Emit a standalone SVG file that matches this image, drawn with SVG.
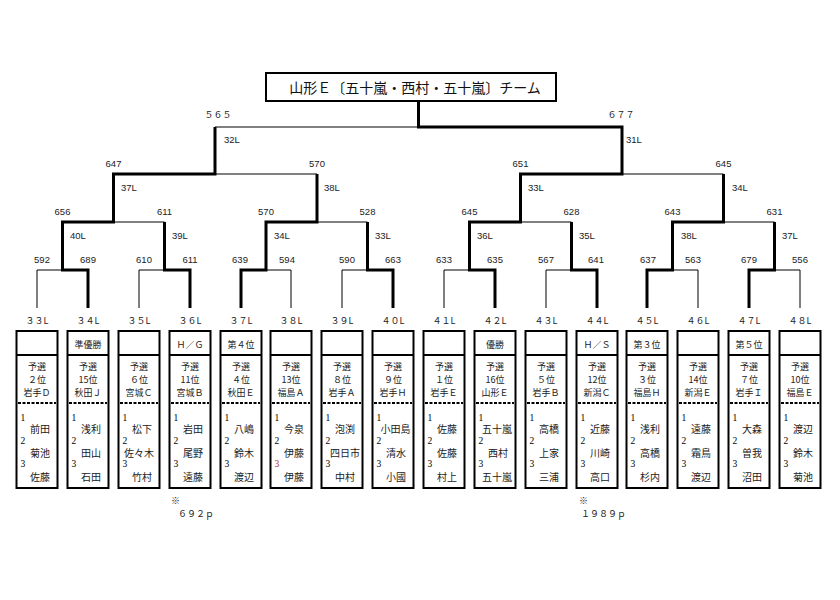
<svg xmlns="http://www.w3.org/2000/svg" width="840" height="600" viewBox="0 0 840 600">
<style>
.bg{fill:#ffffff}
.thin{fill:none;stroke:#000;stroke-width:1}
.thick{fill:none;stroke:#000;stroke-width:3;stroke-linejoin:miter}
.sc{font-family:"Liberation Sans","Noto Sans CJK JP",sans-serif;font-size:9.5px;fill:#222;text-anchor:middle}
.ll{font-family:"Liberation Sans","Noto Sans CJK JP",sans-serif;font-size:9.5px;fill:#222}
.fw{font-family:"Noto Sans CJK JP",sans-serif;font-size:9px;fill:#222;text-anchor:middle}
.cell{fill:#fff;stroke:#000;stroke-width:2}
.hdr{stroke:#000;stroke-width:2}
.dash{stroke:#000;stroke-width:2;stroke-dasharray:3 1.5}
.c{font-family:"Noto Sans CJK JP",sans-serif;font-size:9px;fill:#222;text-anchor:middle}
.m{font-family:"Noto Sans CJK JP",sans-serif;font-size:10px;fill:#222;text-anchor:middle}
.n{font-family:"Liberation Serif",serif;font-size:9.5px;fill:#000}
.t{font-family:"Noto Sans CJK JP",sans-serif;font-size:14px;fill:#111;text-anchor:middle}
.note{font-family:"Noto Sans CJK JP",sans-serif;font-size:9px;fill:#222}
</style>
<rect class="bg" x="0" y="0" width="840" height="600"/>

<g id="title">
<rect x="266" y="73" width="290" height="28" fill="#fff" stroke="#000" stroke-width="2"/>
<text class="t" x="415" y="92.5">山形Ｅ〔五十嵐・西村・五十嵐〕チーム</text>
</g>

<g id="connectors">
<path class="thin" d="M37,308 V270 H62.5"/>
<path class="thin" d="M139,308 V270 H164.5"/>
<path class="thin" d="M291,308 V270 H266"/>
<path class="thin" d="M342,308 V270 H367.5"/>
<path class="thin" d="M444,308 V270 H469.5"/>
<path class="thin" d="M546,308 V270 H571.5"/>
<path class="thin" d="M698,308 V270 H672.5"/>
<path class="thin" d="M800,308 V270 H774.5"/>
<path class="thin" d="M164.5,222 H113.5"/>
<path class="thin" d="M367.5,222 H317"/>
<path class="thin" d="M571.5,222 H520.5"/>
<path class="thin" d="M774.5,222 H723.5"/>
<path class="thin" d="M317,174 H215"/>
<path class="thin" d="M723.5,174 H622"/>
<path class="thin" d="M215,127 H418.5"/>
<path class="thick" d="M88,308 V270 H62.5 V222 H113.5 V174 H215 V127"/>
<path class="thick" d="M190,308 V270 H164.5 V222"/>
<path class="thick" d="M241,308 V270 H266 V222 H317 V174"/>
<path class="thick" d="M393,308 V270 H367.5 V222"/>
<path class="thick" d="M495,308 V270 H469.5 V222 H520.5 V174 H622 V127 H418.5 V101"/>
<path class="thick" d="M597,308 V270 H571.5 V222"/>
<path class="thick" d="M647,308 V270 H672.5 V222 H723.5 V174"/>
<path class="thick" d="M749,308 V270 H774.5 V222"/>
</g>

<g id="scores">
<text class="fw" x="218" y="118">５６５</text>
<text class="fw" x="621" y="118">６７７</text>
<text class="ll" x="224" y="143">32L</text>
<text class="ll" x="626" y="143">31L</text>
<text class="sc" x="113.5" y="167">647</text>
<text class="sc" x="317" y="167">570</text>
<text class="sc" x="520.5" y="167">651</text>
<text class="sc" x="723.5" y="167">645</text>
<text class="ll" x="121" y="191">37L</text>
<text class="ll" x="324" y="191">38L</text>
<text class="ll" x="528" y="191">33L</text>
<text class="ll" x="732" y="191">34L</text>
<text class="sc" x="62.5" y="215">656</text>
<text class="sc" x="164.5" y="215">611</text>
<text class="sc" x="266" y="215">570</text>
<text class="sc" x="367.5" y="215">528</text>
<text class="sc" x="469.5" y="215">645</text>
<text class="sc" x="571.5" y="215">628</text>
<text class="sc" x="672.5" y="215">643</text>
<text class="sc" x="774.5" y="215">631</text>
<text class="ll" x="70" y="239">40L</text>
<text class="ll" x="172" y="239">39L</text>
<text class="ll" x="274" y="239">34L</text>
<text class="ll" x="375" y="239">33L</text>
<text class="ll" x="477" y="239">36L</text>
<text class="ll" x="579" y="239">35L</text>
<text class="ll" x="681" y="239">38L</text>
<text class="ll" x="782" y="239">37L</text>
<text class="sc" x="42" y="263">592</text>
<text class="sc" x="88" y="263">689</text>
<text class="sc" x="144" y="263">610</text>
<text class="sc" x="190" y="263">611</text>
<text class="sc" x="240" y="263">639</text>
<text class="sc" x="287" y="263">594</text>
<text class="sc" x="347" y="263">590</text>
<text class="sc" x="393" y="263">663</text>
<text class="sc" x="444" y="263">633</text>
<text class="sc" x="495" y="263">635</text>
<text class="sc" x="546" y="263">567</text>
<text class="sc" x="596" y="263">641</text>
<text class="sc" x="648" y="263">637</text>
<text class="sc" x="693" y="263">563</text>
<text class="sc" x="749" y="263">679</text>
<text class="sc" x="800" y="263">556</text>
</g>

<g id="n33L" transform="translate(37,0)">
<text class="fw" x="0" y="324">３３L</text>
<rect class="cell" x="-20.5" y="331" width="41" height="157"/>
<line class="hdr" x1="-20.5" y1="355" x2="20.5" y2="355"/>
<text class="c" x="0" y="370">予選</text><text class="c" x="0" y="383">２位</text><text class="c" x="0" y="396">岩手Ｄ</text>
<line class="dash" x1="-19" y1="403" x2="19" y2="403"/>
<text class="n" x="-16.5" y="421">1</text><text class="m" x="3" y="433">前田</text>
<text class="n" x="-16.5" y="444">2</text><text class="m" x="3" y="457">菊池</text>
<text class="n" x="-16.5" y="467">3</text><text class="m" x="3" y="481">佐藤</text>
</g>
<g id="n34L" transform="translate(88,0)">
<text class="fw" x="0" y="324">３４L</text>
<rect class="cell" x="-20.5" y="331" width="41" height="157"/>
<line class="hdr" x1="-20.5" y1="355" x2="20.5" y2="355"/>
<text class="c" x="0" y="348">準優勝</text>
<text class="c" x="0" y="370">予選</text><text class="c" x="0" y="383">15位</text><text class="c" x="0" y="396">秋田Ｊ</text>
<line class="dash" x1="-19" y1="403" x2="19" y2="403"/>
<text class="n" x="-16.5" y="421">1</text><text class="m" x="3" y="433">浅利</text>
<text class="n" x="-16.5" y="444">2</text><text class="m" x="3" y="457">田山</text>
<text class="n" x="-16.5" y="467">3</text><text class="m" x="3" y="481">石田</text>
</g>
<g id="n35L" transform="translate(139,0)">
<text class="fw" x="0" y="324">３５L</text>
<rect class="cell" x="-20.5" y="331" width="41" height="157"/>
<line class="hdr" x1="-20.5" y1="355" x2="20.5" y2="355"/>
<text class="c" x="0" y="370">予選</text><text class="c" x="0" y="383">６位</text><text class="c" x="0" y="396">宮城Ｃ</text>
<line class="dash" x1="-19" y1="403" x2="19" y2="403"/>
<text class="n" x="-16.5" y="421">1</text><text class="m" x="3" y="433">松下</text>
<text class="n" x="-16.5" y="444">2</text><text class="m" x="0" y="457">佐々木</text>
<text class="n" x="-16.5" y="467">3</text><text class="m" x="3" y="481">竹村</text>
</g>
<g id="n36L" transform="translate(190,0)">
<text class="fw" x="0" y="324">３６L</text>
<rect class="cell" x="-20.5" y="331" width="41" height="157"/>
<line class="hdr" x1="-20.5" y1="355" x2="20.5" y2="355"/>
<text class="c" x="0" y="348">Ｈ／Ｇ</text>
<text class="c" x="0" y="370">予選</text><text class="c" x="0" y="383">11位</text><text class="c" x="0" y="396">宮城Ｂ</text>
<line class="dash" x1="-19" y1="403" x2="19" y2="403"/>
<text class="n" x="-16.5" y="421">1</text><text class="m" x="3" y="433">岩田</text>
<text class="n" x="-16.5" y="444">2</text><text class="m" x="3" y="457">尾野</text>
<text class="n" x="-16.5" y="467">3</text><text class="m" x="3" y="481">遠藤</text>
</g>
<g id="n37L" transform="translate(241,0)">
<text class="fw" x="0" y="324">３７L</text>
<rect class="cell" x="-20.5" y="331" width="41" height="157"/>
<line class="hdr" x1="-20.5" y1="355" x2="20.5" y2="355"/>
<text class="c" x="0" y="348">第４位</text>
<text class="c" x="0" y="370">予選</text><text class="c" x="0" y="383">４位</text><text class="c" x="0" y="396">秋田Ｅ</text>
<line class="dash" x1="-19" y1="403" x2="19" y2="403"/>
<text class="n" x="-16.5" y="421">1</text><text class="m" x="3" y="433">八嶋</text>
<text class="n" x="-16.5" y="444">2</text><text class="m" x="3" y="457">鈴木</text>
<text class="n" x="-16.5" y="467">3</text><text class="m" x="3" y="481">渡辺</text>
</g>
<g id="n38L" transform="translate(291,0)">
<text class="fw" x="0" y="324">３８L</text>
<rect class="cell" x="-20.5" y="331" width="41" height="157"/>
<line class="hdr" x1="-20.5" y1="355" x2="20.5" y2="355"/>
<text class="c" x="0" y="370">予選</text><text class="c" x="0" y="383">13位</text><text class="c" x="0" y="396">福島Ａ</text>
<line class="dash" x1="-19" y1="403" x2="19" y2="403"/>
<text class="n" x="-16.5" y="421">1</text><text class="m" x="3" y="433">今泉</text>
<text class="n" x="-16.5" y="444">2</text><text class="m" x="3" y="457">伊藤</text>
<text class="n" x="-16.5" y="467" style="fill:#b03030">3</text><text class="m" x="3" y="481">伊藤</text>
</g>
<g id="n39L" transform="translate(342,0)">
<text class="fw" x="0" y="324">３９L</text>
<rect class="cell" x="-20.5" y="331" width="41" height="157"/>
<line class="hdr" x1="-20.5" y1="355" x2="20.5" y2="355"/>
<text class="c" x="0" y="370">予選</text><text class="c" x="0" y="383">８位</text><text class="c" x="0" y="396">岩手Ａ</text>
<line class="dash" x1="-19" y1="403" x2="19" y2="403"/>
<text class="n" x="-16.5" y="421">1</text><text class="m" x="3" y="433">泡渕</text>
<text class="n" x="-16.5" y="444">2</text><text class="m" x="3" y="457">四日市</text>
<text class="n" x="-16.5" y="467">3</text><text class="m" x="3" y="481">中村</text>
</g>
<g id="n40L" transform="translate(393,0)">
<text class="fw" x="0" y="324">４０L</text>
<rect class="cell" x="-20.5" y="331" width="41" height="157"/>
<line class="hdr" x1="-20.5" y1="355" x2="20.5" y2="355"/>
<text class="c" x="0" y="370">予選</text><text class="c" x="0" y="383">９位</text><text class="c" x="0" y="396">岩手Ｈ</text>
<line class="dash" x1="-19" y1="403" x2="19" y2="403"/>
<text class="n" x="-16.5" y="421">1</text><text class="m" x="2.5" y="433">小田島</text>
<text class="n" x="-16.5" y="444">2</text><text class="m" x="3" y="457">清水</text>
<text class="n" x="-16.5" y="467">3</text><text class="m" x="3" y="481">小國</text>
</g>
<g id="n41L" transform="translate(444,0)">
<text class="fw" x="0" y="324">４１L</text>
<rect class="cell" x="-20.5" y="331" width="41" height="157"/>
<line class="hdr" x1="-20.5" y1="355" x2="20.5" y2="355"/>
<text class="c" x="0" y="370">予選</text><text class="c" x="0" y="383">１位</text><text class="c" x="0" y="396">岩手Ｅ</text>
<line class="dash" x1="-19" y1="403" x2="19" y2="403"/>
<text class="n" x="-16.5" y="421">1</text><text class="m" x="3" y="433">佐藤</text>
<text class="n" x="-16.5" y="444">2</text><text class="m" x="3" y="457">佐藤</text>
<text class="n" x="-16.5" y="467">3</text><text class="m" x="3" y="481">村上</text>
</g>
<g id="n42L" transform="translate(495,0)">
<text class="fw" x="0" y="324">４２L</text>
<rect class="cell" x="-20.5" y="331" width="41" height="157"/>
<line class="hdr" x1="-20.5" y1="355" x2="20.5" y2="355"/>
<text class="c" x="0" y="348">優勝</text>
<text class="c" x="0" y="370">予選</text><text class="c" x="0" y="383">16位</text><text class="c" x="0" y="396">山形Ｅ</text>
<line class="dash" x1="-19" y1="403" x2="19" y2="403"/>
<text class="n" x="-16.5" y="421">1</text><text class="m" x="2" y="433">五十嵐</text>
<text class="n" x="-16.5" y="444">2</text><text class="m" x="3" y="457">西村</text>
<text class="n" x="-16.5" y="467">3</text><text class="m" x="2" y="481">五十嵐</text>
</g>
<g id="n43L" transform="translate(546,0)">
<text class="fw" x="0" y="324">４３L</text>
<rect class="cell" x="-20.5" y="331" width="41" height="157"/>
<line class="hdr" x1="-20.5" y1="355" x2="20.5" y2="355"/>
<text class="c" x="0" y="370">予選</text><text class="c" x="0" y="383">５位</text><text class="c" x="0" y="396">岩手Ｂ</text>
<line class="dash" x1="-19" y1="403" x2="19" y2="403"/>
<text class="n" x="-16.5" y="421">1</text><text class="m" x="3" y="433">高橋</text>
<text class="n" x="-16.5" y="444">2</text><text class="m" x="3" y="457">上家</text>
<text class="n" x="-16.5" y="467">3</text><text class="m" x="3" y="481">三浦</text>
</g>
<g id="n44L" transform="translate(597,0)">
<text class="fw" x="0" y="324">４４L</text>
<rect class="cell" x="-20.5" y="331" width="41" height="157"/>
<line class="hdr" x1="-20.5" y1="355" x2="20.5" y2="355"/>
<text class="c" x="0" y="348">Ｈ／Ｓ</text>
<text class="c" x="0" y="370">予選</text><text class="c" x="0" y="383">12位</text><text class="c" x="0" y="396">新潟Ｃ</text>
<line class="dash" x1="-19" y1="403" x2="19" y2="403"/>
<text class="n" x="-16.5" y="421">1</text><text class="m" x="3" y="433">近藤</text>
<text class="n" x="-16.5" y="444">2</text><text class="m" x="3" y="457">川崎</text>
<text class="n" x="-16.5" y="467">3</text><text class="m" x="3" y="481">高口</text>
</g>
<g id="n45L" transform="translate(647,0)">
<text class="fw" x="0" y="324">４５L</text>
<rect class="cell" x="-20.5" y="331" width="41" height="157"/>
<line class="hdr" x1="-20.5" y1="355" x2="20.5" y2="355"/>
<text class="c" x="0" y="348">第３位</text>
<text class="c" x="0" y="370">予選</text><text class="c" x="0" y="383">３位</text><text class="c" x="0" y="396">福島Ｈ</text>
<line class="dash" x1="-19" y1="403" x2="19" y2="403"/>
<text class="n" x="-16.5" y="421">1</text><text class="m" x="3" y="433">浅利</text>
<text class="n" x="-16.5" y="444">2</text><text class="m" x="3" y="457">高橋</text>
<text class="n" x="-16.5" y="467">3</text><text class="m" x="3" y="481">杉内</text>
</g>
<g id="n46L" transform="translate(698,0)">
<text class="fw" x="0" y="324">４６L</text>
<rect class="cell" x="-20.5" y="331" width="41" height="157"/>
<line class="hdr" x1="-20.5" y1="355" x2="20.5" y2="355"/>
<text class="c" x="0" y="370">予選</text><text class="c" x="0" y="383">14位</text><text class="c" x="0" y="396">新潟Ｅ</text>
<line class="dash" x1="-19" y1="403" x2="19" y2="403"/>
<text class="n" x="-16.5" y="421">1</text><text class="m" x="3" y="433">遠藤</text>
<text class="n" x="-16.5" y="444">2</text><text class="m" x="3" y="457">霜鳥</text>
<text class="n" x="-16.5" y="467">3</text><text class="m" x="3" y="481">渡辺</text>
</g>
<g id="n47L" transform="translate(749,0)">
<text class="fw" x="0" y="324">４７L</text>
<rect class="cell" x="-20.5" y="331" width="41" height="157"/>
<line class="hdr" x1="-20.5" y1="355" x2="20.5" y2="355"/>
<text class="c" x="0" y="348">第５位</text>
<text class="c" x="0" y="370">予選</text><text class="c" x="0" y="383">７位</text><text class="c" x="0" y="396">岩手Ｉ</text>
<line class="dash" x1="-19" y1="403" x2="19" y2="403"/>
<text class="n" x="-16.5" y="421">1</text><text class="m" x="3" y="433">大森</text>
<text class="n" x="-16.5" y="444">2</text><text class="m" x="3" y="457">曽我</text>
<text class="n" x="-16.5" y="467">3</text><text class="m" x="3" y="481">沼田</text>
</g>
<g id="n48L" transform="translate(800,0)">
<text class="fw" x="0" y="324">４８L</text>
<rect class="cell" x="-20.5" y="331" width="41" height="157"/>
<line class="hdr" x1="-20.5" y1="355" x2="20.5" y2="355"/>
<text class="c" x="0" y="370">予選</text><text class="c" x="0" y="383">10位</text><text class="c" x="0" y="396">福島Ｅ</text>
<line class="dash" x1="-19" y1="403" x2="19" y2="403"/>
<text class="n" x="-16.5" y="421">1</text><text class="m" x="3" y="433">渡辺</text>
<text class="n" x="-16.5" y="444">2</text><text class="m" x="3" y="457">鈴木</text>
<text class="n" x="-16.5" y="467">3</text><text class="m" x="3" y="481">菊池</text>
</g>

<g id="notes">
<text class="note" x="171" y="504">※</text>
<text class="note" x="178" y="517">６９２ｐ</text>
<text class="note" x="579" y="504">※</text>
<text class="note" x="581" y="517">１９８９ｐ</text>
</g>
</svg>
